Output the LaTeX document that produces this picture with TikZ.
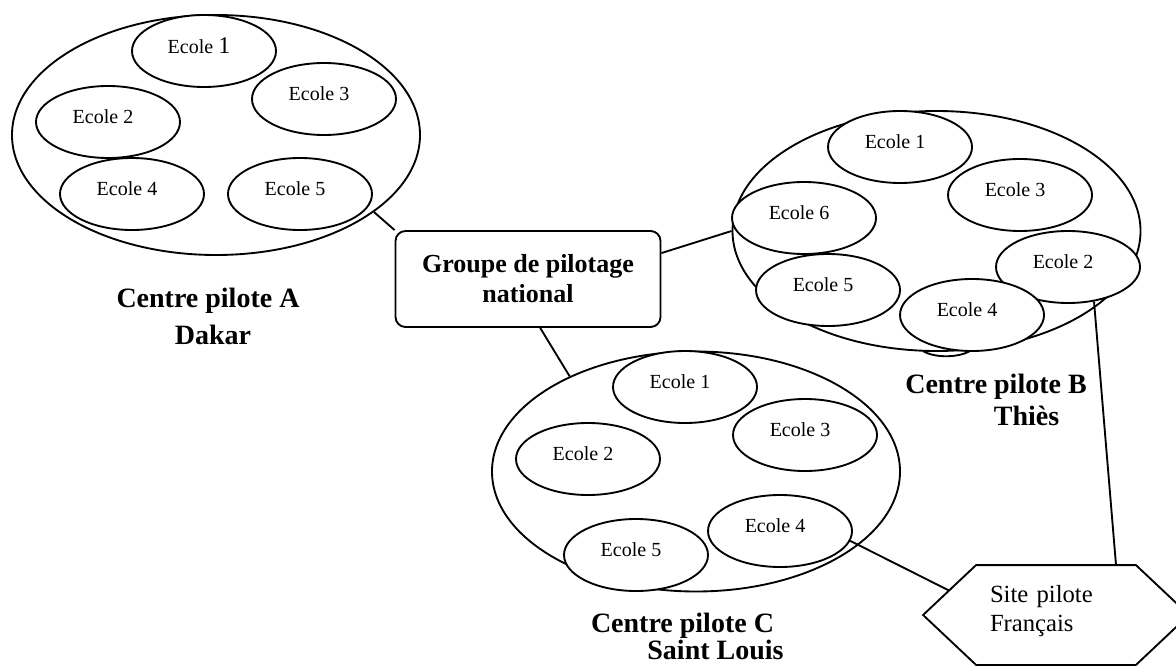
\documentclass[tikz,border=0pt]{standalone}
\usepackage{fontspec}
\setmainfont{Liberation Serif}
\usetikzlibrary{shapes.geometric,calc}
\begin{document}
\begin{tikzpicture}[x=0.75pt,y=-0.75pt,line width=1.4pt,
  big/.style={ellipse,draw,minimum width=306pt,minimum height=180pt,inner sep=0pt},
  school/.style={ellipse,draw,fill=white,minimum width=108pt,minimum height=54pt,inner sep=0pt,
     font=\fontsize{15}{18}\selectfont,text depth=7.7pt,execute at end node={\hspace*{7.5pt}}},
  groupbox/.style={rectangle,rounded corners=7.5pt,draw,minimum width=198.75pt,minimum height=72pt,
     inner sep=0pt,align=center,font=\bfseries\fontsize{19.5}{22.5}\selectfont},
  centretitle/.style={align=center,inner sep=0pt},
  hexbox/.style={rectangle,minimum width=198pt,minimum height=73.5pt,inner sep=0pt,
     text width=99pt,align=left,font=\fontsize{18.5}{21.75}\selectfont,text depth=32.3pt},
  link/.style={draw,line width=1.4pt}]
\useasboundingbox[fill=white] (0,0) rectangle (1176,670);
\clip (0,0) rectangle (1176,670);

% big clusters
\node[big] (A) at (216,135) {};
\node[big] (B) at (936.5,231) {};
\node[big] (C) at (696,471.5) {};

% small hidden arc below Ecole 4 (B)
\draw (923,351) .. controls (934,358) and (958,358) .. (970,351);

% cluster A
\node[school] (a1) at (204,51) {Ecole {\fontsize{18}{18}\selectfont 1}};
\node[school] (a3) at (324,99) {Ecole 3};
\node[school] (a2) at (108,122) {Ecole 2};
\node[school] (a4) at (132,194) {Ecole 4};
\node[school] (a5) at (300,194) {Ecole 5};

% cluster B
\node[school] (b1) at (900,147) {Ecole 1};
\node[school] (b3) at (1020,195) {Ecole 3};
\node[school] (b6) at (804,218) {Ecole 6};
\node[school] (b2) at (1068,267) {Ecole 2};
\node[school] (b5) at (828,290) {Ecole 5};
\node[school] (b4) at (972,315) {Ecole 4};

% cluster C
\node[school] (c1) at (685,387) {Ecole 1};
\node[school] (c3) at (805,435) {Ecole 3};
\node[school] (c2) at (588,459) {Ecole 2};
\node[school] (c4) at (780,531) {Ecole 4};
\node[school] (c5) at (636,555) {Ecole 5};

% central group
\node[groupbox] (G) at (528,279) {Groupe de pilotage\\national};

% French pilot site (hexagon)
\node[hexbox] (hex) at (1056,615) {Site pilote\\Français};
\coordinate (hW) at (hex.west);
\coordinate (hNW) at ($(hex.north west)+(53,0)$);
\coordinate (hNE) at ($(hex.north east)+(-53,0)$);
\coordinate (hE) at (hex.east);
\coordinate (hSE) at ($(hex.south east)+(-53,0)$);
\coordinate (hSW) at ($(hex.south west)+(53,0)$);
\draw (hW) -- (hNW) -- (hNE) -- (hE) -- (hSE) -- (hSW) -- cycle;
\coordinate (hTop) at ($(hex.north)+(60,0)$);
\coordinate (hSlant) at ($(hW)!0.49!(hNW)$);

% labels (base anchor = baseline of the last line)
\node[centretitle,anchor=base,font=\bfseries\fontsize{21}{27.75}\selectfont] (labA) at (208,344)
  {Centre pilote A\\\hspace*{7.5pt}Dakar};
\node[centretitle,anchor=base,font=\bfseries\fontsize{21}{24}\selectfont] (labB) at (996,425)
  {Centre pilote B\\\hspace*{45.75pt}Thiès};
\node[centretitle,anchor=base,font=\bfseries\fontsize{21}{19}\selectfont] (labC) at (682.5,659)
  {Centre pilote C\\\hspace*{49.5pt}Saint Louis};

% connectors
\draw[link] (A.-26.6) -- (G.north west);
\draw[link] (G.11) -- (B.west);
\draw[link] (G.-76) -- (C.143.6);
\draw[link] (b2.-53.7) -- (hTop);
\draw[link] (c4.-8) -- (hSlant);
\end{tikzpicture}
\end{document}
